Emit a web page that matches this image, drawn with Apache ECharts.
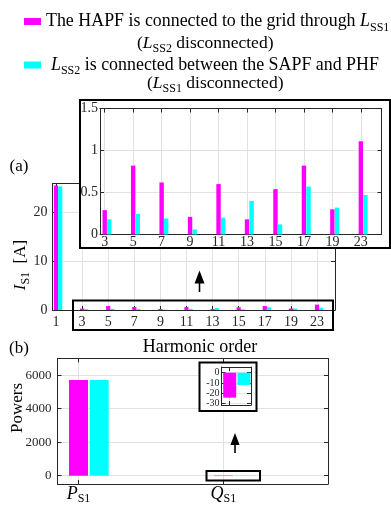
<!DOCTYPE html>
<html>
<head>
<meta charset="utf-8">
<script src="https://cdn.jsdelivr.net/npm/echarts@6/dist/echarts.min.js"></script>
<style>
  html, body { margin: 0; padding: 0; background: #fff; }
  #chart { width: 391px; height: 507px; }
</style>
</head>
<body>
<div id="chart"></div>
<script>
// Harmonic orders of the source current (fundamental first)
const harmonicOrders = ['1', '3', '5', '7', '9', '11', '13', '15', '17', '19', '23'];
// Source current I_S1 per harmonic order [A]
const hapfCurrent    = [25.6, 0.29, 0.82, 0.62, 0.21, 0.60, 0.18, 0.54, 0.82, 0.30, 1.11];
const sapfPhfCurrent = [25.4, 0.18, 0.245, 0.19, 0.06, 0.20, 0.40, 0.12, 0.57, 0.32, 0.47];
// Source powers (active P, reactive Q)
const powerNames     = ['P', 'Q'];
const hapfPower      = [5710, -24.5];
const sapfPhfPower   = [5710, -12];
// Tick values of each panel
const currentTicks     = [0, 10, 20];
const zoomCurrentTicks = [0, 0.5, 1, 1.5];
const powerTicks       = [0, 2000, 4000, 6000];
const zoomPowerTicks   = [-30, -20, -10, 0];

const NAME_HAPF = 'The HAPF is connected to the grid through LSS1';
const NAME_SAPF = 'LSS2 is connected between the SAPF and PHF';

const FONT = "'Liberation Serif', 'Times New Roman', serif";
const MAGENTA = '#ff00ff';
const CYAN = '#00ffff';
const INK = '#262626';
const GRID = '#e2e2e2';

const richSub = (size, subSize) => ({
  i: { fontFamily: FONT, fontStyle: 'italic', fontSize: size, color: '#000' },
  j: { fontFamily: FONT, fontStyle: 'italic', fontSize: size, color: '#000', padding: [0, 0, 0, 5] },
  s: { fontFamily: FONT, fontSize: subSize, color: '#000', verticalAlign: 'bottom', padding: [0, 0, -2, 0] }
});

// Plot boxes in pixels
const frames = {
  harm:  { left: 52.5,  top: 183.5, width: 282.5, height: 126.5 },
  harmZ: { left: 100,   top: 108.5, width: 281.5, height: 126 },
  pow:   { left: 57.5,  top: 358.5, width: 270.5, height: 125.5 },
  powZ:  { left: 221.5, top: 367,   width: 29.5,  height: 38 }
};
// Horizontal layout: anchor index and its pixel, pixels per index step,
// bar width and the pixel offset of the cyan bar next to the magenta one
const xLayout = {
  harm:  { idx: 0, px: 56,    unit: 26.1,  bar: 4.2, shift: 4.2 },
  harmZ: { idx: 1, px: 104.7, unit: 28.46, bar: 4.4, shift: 4.6 },
  pow:   { idx: 0, px: 78.5,  unit: 144.8, bar: 19,  shift: 20.7 },
  powZ:  { idx: 1, px: 229.7, unit: 100,   bar: 13,  shift: 14.3 }
};
function xRange(key, offsetPx) {
  const f = frames[key], L = xLayout[key];
  const s = (offsetPx || 0) / L.unit;
  return {
    min: L.idx - (L.px - f.left) / L.unit - s,
    max: L.idx + (f.left + f.width - L.px) / L.unit - s
  };
}

const grids = [], xAxes = [], yAxes = [];
function addPanel(key, cfg) {
  const g = grids.length;
  grids.push(Object.assign({ z: cfg.z }, frames[key]));
  const line = { show: true, onZero: false, lineStyle: { color: INK, width: 1 } };
  const tick = (vals) => ({ show: true, inside: true, length: 4, customValues: vals, lineStyle: { color: INK } });
  const xi = xAxes.length;
  const xr = xRange(key);
  xAxes.push(Object.assign({
    type: 'value', gridIndex: g, z: cfg.z, position: 'bottom',
    axisLine: line, axisTick: tick(cfg.xTicks),
    axisLabel: Object.assign({ show: cfg.xLabels !== false, customValues: cfg.xTicks, formatter: cfg.xFormat,
      fontFamily: FONT, color: INK, hideOverlap: false }, cfg.xLabel || {}),
    splitLine: { show: true, lineStyle: { color: GRID } }
  }, xr));
  xAxes.push(Object.assign({
    type: 'value', gridIndex: g, z: cfg.z, position: 'top',
    axisLine: line, axisTick: tick(cfg.xTicks), axisLabel: { show: false }, splitLine: { show: false }
  }, xr));
  xAxes.push(Object.assign({ type: 'value', gridIndex: g, show: false }, xRange(key, xLayout[key].shift)));
  const yi = yAxes.length;
  yAxes.push({
    type: 'value', gridIndex: g, z: cfg.z, position: 'left', min: cfg.yMin, max: cfg.yMax,
    axisLine: line, axisTick: tick(cfg.yTicks),
    axisLabel: Object.assign({ customValues: cfg.yTicks, formatter: v => String(v),
      fontFamily: FONT, color: INK, hideOverlap: false }, cfg.yLabel || {}),
    splitLine: { show: true, lineStyle: { color: GRID } }
  });
  yAxes.push({
    type: 'value', gridIndex: g, z: cfg.z, position: 'right', min: cfg.yMin, max: cfg.yMax,
    axisLine: line, axisTick: tick(cfg.yTicks), axisLabel: { show: false }, splitLine: { show: false }
  });
  return { x: xi, xs: xi + 2, y: yi, z: cfg.z, bar: xLayout[key].bar };
}

const allIdx = harmonicOrders.map((_, i) => i);
const harmIdx = allIdx.slice(1);

const A  = addPanel('harm', { z: 0, xTicks: allIdx, xFormat: v => harmonicOrders[v],
  xLabel: { fontSize: 14, margin: 5 }, yMin: 0, yMax: 26, yTicks: currentTicks, yLabel: { fontSize: 14, margin: 5 } });
const AZ = addPanel('harmZ', { z: 10, xTicks: harmIdx, xFormat: v => harmonicOrders[v],
  xLabel: { fontSize: 14, margin: 1 }, yMin: 0, yMax: 1.5, yTicks: zoomCurrentTicks, yLabel: { fontSize: 14, margin: 2 } });
const B  = addPanel('pow', { z: 0, xTicks: [0, 1], xFormat: v => `{i|${powerNames[v]}}{s|S1}`,
  xLabel: { margin: 1, rich: richSub(18, 12) }, yMin: -500, yMax: 7000, yTicks: powerTicks, yLabel: { fontSize: 13, margin: 6 } });
const BZ = addPanel('powZ', { z: 10, xTicks: [1], xLabels: false,
  yMin: -31.7, yMax: 5.6, yTicks: zoomPowerTicks, yLabel: { fontSize: 10, margin: 2 } });

function barPair(P, idx, magentaVals, cyanVals) {
  const mk = (name, xAxisIndex, vals, color) => ({
    name, type: 'bar', xAxisIndex, yAxisIndex: P.y, z: P.z + 2, barWidth: P.bar,
    data: idx.map(i => [i, vals[i]]), itemStyle: { color }, animation: false
  });
  return [mk(NAME_HAPF, P.x, magentaVals, MAGENTA), mk(NAME_SAPF, P.xs, cyanVals, CYAN)];
}
const powerIdx = powerNames.map((_, i) => i);

const series = [].concat(
  barPair(A, allIdx, hapfCurrent, sapfPhfCurrent),
  barPair(AZ, harmIdx, hapfCurrent, sapfPhfCurrent),
  barPair(B, powerIdx, hapfPower, sapfPhfPower),
  barPair(BZ, [1], hapfPower, sapfPhfPower)
);

// Decorations: inset frames, zoom boxes, arrows and panel texts
const frameFill = (x, y, w, h) => ({ type: 'rect', z: 5, silent: true,
  shape: { x, y, width: w, height: h }, style: { fill: '#fff' } });
const frameLine = (x, y, w, h) => ({ type: 'rect', z: 30, silent: true,
  shape: { x, y, width: w, height: h }, style: { fill: 'none', stroke: '#000', lineWidth: 2 } });
const arrow = (x, tip, base, end, half) => ([
  { type: 'polygon', z: 30, silent: true, shape: { points: [[x, tip], [x - half, base], [x + half, base]] }, style: { fill: '#000' } },
  { type: 'line', z: 30, silent: true, shape: { x1: x, y1: base - 1, x2: x, y2: end }, style: { stroke: '#000', lineWidth: 1.6 } }
]);
const label = (text, x, y, size, extra) => Object.assign({ type: 'text', z: 30, silent: true, x, y,
  style: Object.assign({ text, fontFamily: FONT, fontSize: size, fill: '#000', align: 'center', verticalAlign: 'middle',
    rich: richSub(size, Math.round(size * 0.68)) }, extra || {}) });

const graphic = [].concat(
  [frameFill(80, 100, 310, 148), frameLine(80, 100, 310, 148)],
  [frameLine(73, 300.5, 260, 29.5)],
  arrow(199.5, 270.5, 283.5, 292, 5),
  [frameFill(199.5, 362.5, 57, 48.5), frameLine(199.5, 362.5, 57, 48.5)],
  [frameLine(206.5, 471, 53.5, 9.5)],
  arrow(235, 433, 445, 453, 4.6),
  [
    label('(a)', 19, 167, 17),
    label('(b)', 19, 349, 17),
    label('Harmonic order', 200, 347, 18),
    Object.assign(label('{i|I}{s|S1}  [A]', 21, 265, 17), { rotation: Math.PI / 2 }),
    Object.assign(label('Powers', 17.5, 408, 17), { rotation: Math.PI / 2 }),
    label('({i|L}{s|SS2} disconnected)', 137, 43.5, 17.5, { align: 'left' }),
    label('({i|L}{s|SS1} disconnected)', 147, 83.5, 17.5, { align: 'left' })
  ]
);

const chart = echarts.init(document.getElementById('chart'));
chart.setOption({
  animation: false,
  legend: {
    data: [NAME_HAPF, NAME_SAPF],
    orient: 'vertical', left: 24, top: 11.5, padding: 0,
    itemWidth: 17, itemHeight: 7, itemGap: 21.5, icon: 'rect',
    formatter: name => name === NAME_HAPF
      ? 'The HAPF is connected to the grid through {i|L}{s|SS1}'
      : '{j|L}{s|SS2} is connected between the SAPF and PHF',
    textStyle: { fontFamily: FONT, fontSize: 17.9, color: '#000', lineHeight: 20, rich: richSub(17.9, 12) }
  },
  grid: grids,
  xAxis: xAxes,
  yAxis: yAxes,
  series,
  graphic
});
</script>
</body>
</html>
